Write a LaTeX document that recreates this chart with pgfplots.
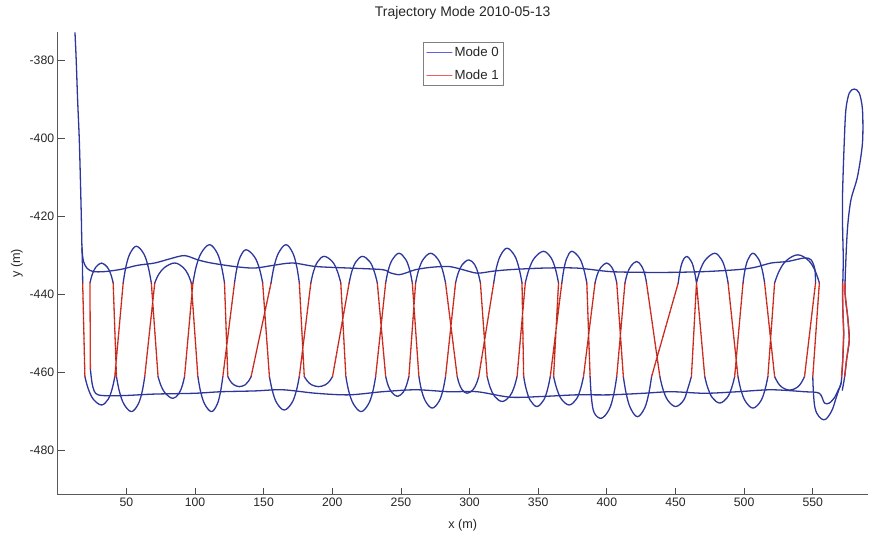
\documentclass[border=0pt]{standalone}
\usepackage{fontspec}
\setmainfont{Liberation Sans}
\usepackage{pgfplots}
\pgfplotsset{compat=1.18}
\definecolor{mblue}{RGB}{45,55,155}
\definecolor{mred}{RGB}{220,50,35}
\definecolor{mdark}{RGB}{80,45,50}
\definecolor{legblue}{RGB}{95,95,225}
\definecolor{legred}{RGB}{235,95,95}
\begin{document}
\begin{tikzpicture}
\path[use as bounding box] (0,0) rectangle (870bp,535bp);
\begin{axis}[
  at={(57.7bp,40.3bp)}, anchor=south west,
  width=810bp, height=463bp, scale only axis,
  xmin=0, xmax=590, ymin=-491.3, ymax=-372.6,
  axis lines*=left, axis line style={-, black!65, line width=0.8bp},
  tick align=inside, major tick length=7bp,
  tick style={black!70, line width=0.8bp},
  xtick={50,100,...,550}, ytick={-480,-460,-440,-420,-400,-380},
  /pgf/number format/assume math mode=true,
  ticklabel style={font=\fontsize{12.3}{14}\selectfont, text=black!85},
  xlabel={x (m)}, ylabel={y (m)},
  label style={font=\fontsize{12.7}{14}\selectfont, text=black!85},
  xlabel style={yshift=-6bp},
  title={Trajectory Mode 2010-05-13},
  title style={font=\fontsize{14}{16}\selectfont, text=black!85, yshift=3bp},
  legend style={at={(0.451,0.978)}, anchor=north west, draw=black!50, line width=0.6bp,
    font=\fontsize{13.3}{15}\selectfont, inner xsep=3bp, inner ysep=2.5bp, row sep=8bp,
    nodes={inner sep=2bp}, text=black!85},
  legend cell align=left,
  unbounded coords=jump,
  every axis plot/.append style={line width=1.3bp, line join=round, line cap=round},
]
% Mode 0: descent and upper transit line
\addplot[mblue, smooth, tension=0.5, forget plot] coordinates {
(12.6,-372.9) (13.5,-380) (14.5,-390) (15.7,-400) (16.5,-410) (17.2,-420) (17.7,-428)
(18.8,-431.5) (21.5,-433.3) (26,-434.1) (34.3,-434.1) (46.5,-433.5) (58,-432.5) (70.7,-431.9)
(82,-430.8) (92.4,-430.0) (102.1,-431.1) (111.8,-431.9) (128.8,-432.8) (143.3,-433.2)
(157,-432.5) (171.1,-431.9) (188.1,-432.8) (212.3,-433.2) (236.5,-433.6) (242,-434.4)
(248.6,-434.9) (254,-434.4) (260.7,-433.6) (272,-433) (284.9,-432.8) (295,-433.6)
(305.5,-434.5) (317,-434) (329.7,-433.6) (353.9,-433.2) (378.1,-433.2) (402.3,-434.1)
(426.5,-434.3) (447.1,-434.3) (471.3,-434.1) (495.5,-433.6) (508,-433) (519.7,-431.9)
(531.8,-431.5) (544,-430.6) (548.8,-431.1) (551.5,-433.5) (552,-437)
};
% Mode 0: start branch, lower transit line, right end loop
\addplot[mblue, smooth, tension=0.5, forget plot] coordinates {
(17.7,-428) (18.0,-432) (18.2,-437) (0,nan)
(23.8,-459) (25.5,-463.5) (29.5,-465.7) (46.5,-465.9) (70.7,-465.5) (99.7,-465.3)
(119.1,-464.9) (143.3,-464.7) (163.9,-464.4) (188.1,-465.3) (212.3,-465.7) (236.5,-464.9)
(260.7,-464.4) (284.9,-464.9) (305.5,-464.9) (329.7,-466.3) (353.9,-466.1) (378.1,-465.7)
(402.3,-465.7) (426.5,-465.3) (447.1,-464.9) (471.3,-465.3) (495.5,-464.9) (519.7,-464.4)
(544,-464.9) (554.8,-465.3) (558.5,-467.8) (562.1,-467.8) (566,-466.3) (568.5,-464.5)
(570.6,-462.7) (571.8,-457) (572.5,-450) (571.9,-444) (571.7,-439.6) (572.2,-431.1)
(571.7,-422.5) (571.7,-414) (572.9,-401.1) (574.1,-392.6) (576.6,-388.3) (580.2,-387.3)
(583.8,-388.3) (586.2,-392.6) (586.2,-401.1) (582.6,-409.7) (577.8,-415.7) (575.4,-422.5)
(574.1,-431.1) (573.5,-439.6) (575.5,-446) (576.6,-451.6) (574.6,-456.7) (573,-461.5)
(571.5,-464.5)
};
% Mode 0: turns above the upper line
\addplot[mblue, smooth, tension=0.6, forget plot] coordinates {
(23.5,-437)(25.2,-434.8)(27.7,-433.0)(31.9,-431.9)(36.2,-433.0)(38.7,-434.8)(40.4,-437) (0,nan)
(47.7,-437)(49.6,-433.0)(52.5,-429.6)(57.3,-427.6)(62.8,-429.6)(66.0,-433.0)(68.2,-437) (0,nan)
(70.7,-437)(73.6,-434.8)(78.0,-433.0)(85.2,-431.9)(91.3,-433.0)(94.9,-434.8)(97.3,-437) (0,nan)
(98.5,-437)(100.9,-432.8)(104.6,-429.3)(110.6,-427.2)(116.1,-429.3)(119.3,-432.8)(121.5,-437) (0,nan)
(128.8,-437)(130.5,-433.3)(133.0,-430.3)(137.2,-428.5)(143.3,-430.3)(146.9,-433.3)(149.3,-437) (0,nan)
(155.4,-437)(157.6,-432.8)(160.9,-429.3)(166.3,-427.2)(171.2,-429.3)(174.1,-432.8)(176.0,-437) (0,nan)
(184.4,-437)(186.3,-434.1)(189.3,-431.6)(194.1,-430.2)(200.2,-431.6)(203.8,-434.1)(206.2,-437) (0,nan)
(212.3,-437)(214.2,-434.1)(217.2,-431.6)(222.0,-430.2)(227.4,-431.6)(230.6,-434.1)(232.8,-437) (0,nan)
(238.9,-437)(240.8,-433.7)(243.8,-431.0)(248.6,-429.4)(253.5,-431.0)(256.4,-433.7)(258.3,-437) (0,nan)
(260.7,-437)(262.9,-433.7)(266.2,-431.0)(271.6,-429.4)(277.1,-431.0)(280.3,-433.7)(282.5,-437) (0,nan)
(289.8,-437)(291.7,-434.5)(294.7,-432.3)(299.5,-431.1)(303.7,-432.3)(306.2,-434.5)(307.9,-437) (0,nan)
(317.6,-437)(319.5,-433.2)(322.5,-430.0)(327.3,-428.1)(332.8,-430.0)(336.0,-433.2)(338.2,-437) (0,nan)
(340.6,-437)(343.3,-433.5)(347.3,-430.6)(353.9,-428.9)(359.4,-430.6)(362.6,-433.5)(364.8,-437) (0,nan)
(367.2,-437)(368.7,-433.5)(370.9,-430.6)(374.5,-428.9)(380.0,-430.6)(383.2,-433.5)(385.4,-437) (0,nan)
(391.4,-437)(393.1,-434.8)(395.7,-433.0)(399.9,-431.9)(403.6,-433.0)(405.7,-434.8)(407.2,-437) (0,nan)
(413.2,-437)(414.9,-434.6)(417.5,-432.7)(421.7,-431.5)(425.3,-432.7)(427.5,-434.6)(428.9,-437) (0,nan)
(452.0,-437)(453.2,-434.1)(455.0,-431.6)(458.0,-430.2)(461.7,-431.6)(463.8,-434.1)(465.3,-437) (0,nan)
(465.3,-437)(468.0,-433.7)(472.0,-431.0)(478.6,-429.4)(483.5,-431.0)(486.4,-433.7)(488.3,-437) (0,nan)
(499.2,-437)(500.6,-433.7)(502.8,-431.0)(506.4,-429.4)(510.7,-431.0)(513.2,-433.7)(514.9,-437) (0,nan)
(522.2,-437)(525.6,-433.9)(530.7,-431.3)(539.1,-429.8)(547.0,-431.3)(551.7,-433.9)(554.8,-437)
};
% Mode 0: turns below the lower line
\addplot[mblue, smooth, tension=0.6, forget plot] coordinates {
(19.8,-461)(22.2,-464.1)(25.9,-466.8)(31.9,-468.3)(36.8,-466.8)(39.7,-464.1)(41.6,-461) (0,nan)
(42.8,-461)(45.0,-464.9)(48.3,-468.1)(53.7,-470.0)(58.6,-468.1)(61.5,-464.9)(63.4,-461) (0,nan)
(73.1,-461)(75.3,-463.4)(78.6,-465.4)(84.0,-466.6)(88.2,-465.4)(90.7,-463.4)(92.4,-461) (0,nan)
(102.1,-461)(104.1,-464.9)(107.1,-468.1)(112.0,-470.0)(116.2,-468.1)(118.6,-464.9)(120.3,-461) (0,nan)
(123.9,-461)(125.6,-462.1)(128.2,-463.1)(132.4,-463.6)(136.7,-463.1)(139.2,-462.1)(140.9,-461) (0,nan)
(154.2,-461)(156.4,-464.7)(159.6,-467.8)(165.0,-469.6)(170.5,-467.8)(173.8,-464.7)(176.0,-461) (0,nan)
(179.6,-461)(181.7,-462.1)(184.8,-463.1)(190.0,-463.6)(195.1,-463.1)(198.2,-462.1)(200.2,-461) (0,nan)
(209.9,-461)(212.1,-464.9)(215.5,-468.1)(221.0,-470.0)(226.3,-468.1)(229.5,-464.9)(231.6,-461) (0,nan)
(238.9,-461)(240.6,-463.2)(243.2,-465.0)(247.5,-466.1)(251.7,-465.0)(254.1,-463.2)(255.8,-461) (0,nan)
(263.1,-461)(265.0,-464.5)(268.0,-467.4)(272.8,-469.1)(277.7,-467.4)(280.6,-464.5)(282.5,-461) (0,nan)
(291.0,-461)(292.4,-462.8)(294.6,-464.4)(298.2,-465.3)(302.5,-464.4)(305.0,-462.8)(306.7,-461) (0,nan)
(312.8,-461)(315.0,-463.8)(318.3,-466.1)(323.7,-467.4)(329.2,-466.1)(332.4,-463.8)(334.6,-461) (0,nan)
(339.4,-461)(341.3,-464.3)(344.2,-467.1)(349.0,-468.7)(353.9,-467.1)(356.8,-464.3)(358.8,-461) (0,nan)
(361.2,-461)(363.5,-464.1)(366.9,-466.8)(372.5,-468.3)(377.8,-466.8)(380.9,-464.1)(383.0,-461) (0,nan)
(387.8,-461)(388.8,-466.5)(390.8,-470.3)(396.0,-471.7)(401.6,-469.5)(405.0,-465.6)(407.2,-461) (0,nan)
(412.0,-461)(414.1,-465.4)(417.2,-469.1)(422.3,-471.3)(427.5,-469.1)(430.5,-465.4)(432.6,-461) (0,nan)
(438.6,-461)(440.9,-464.3)(444.4,-467.1)(450.1,-468.7)(455.9,-467.1)(458.8,-464.3)(461.6,-461) (0,nan)
(471.3,-461)(473.5,-463.9)(476.8,-466.4)(482.2,-467.8)(487.7,-466.4)(490.9,-463.9)(493.1,-461) (0,nan)
(495.5,-461)(497.7,-464.5)(501.0,-467.4)(506.4,-469.1)(511.9,-467.4)(515.1,-464.5)(517.3,-461) (0,nan)
(522.2,-461)(524.4,-462.5)(527.7,-463.8)(533.1,-464.5)(538.6,-463.8)(541.8,-462.5)(544.0,-461) (0,nan)
(550.0,-461)(551.7,-469.2)(557.9,-472.1)(563.5,-470.0)(567.0,-466.5)(570.6,-462.7)
};
% Mode 1: survey legs
\addplot[mred, forget plot] coordinates {
(18.2,-437)(19.8,-461) (0,nan)
(23.5,-437)(23.8,-459) (0,nan)
(40.4,-437)(42.8,-461) (0,nan)
(47.7,-437)(41.6,-461) (0,nan)
(68.2,-437)(73.1,-461) (0,nan)
(70.7,-437)(63.4,-461) (0,nan)
(97.3,-437)(102.1,-461) (0,nan)
(98.5,-437)(92.4,-461) (0,nan)
(121.5,-437)(123.9,-461) (0,nan)
(128.8,-437)(120.3,-461) (0,nan)
(149.3,-437)(154.2,-461) (0,nan)
(155.4,-437)(140.9,-461) (0,nan)
(176.0,-437)(179.6,-461) (0,nan)
(184.4,-437)(176.0,-461) (0,nan)
(206.2,-437)(209.9,-461) (0,nan)
(212.3,-437)(200.2,-461) (0,nan)
(232.8,-437)(238.9,-461) (0,nan)
(238.9,-437)(231.6,-461) (0,nan)
(258.3,-437)(263.1,-461) (0,nan)
(260.7,-437)(255.8,-461) (0,nan)
(282.5,-437)(291.0,-461) (0,nan)
(289.8,-437)(282.5,-461) (0,nan)
(307.9,-437)(312.8,-461) (0,nan)
(317.6,-437)(306.7,-461) (0,nan)
(338.2,-437)(339.4,-461) (0,nan)
(340.6,-437)(334.6,-461) (0,nan)
(364.8,-437)(361.2,-461) (0,nan)
(367.2,-437)(358.8,-461) (0,nan)
(385.4,-437)(387.8,-461) (0,nan)
(391.4,-437)(383.0,-461) (0,nan)
(407.2,-437)(412.0,-461) (0,nan)
(413.2,-437)(407.2,-461) (0,nan)
(428.9,-437)(438.6,-461) (0,nan)
(452.0,-437)(432.6,-461) (0,nan)
(465.3,-437)(471.3,-461) (0,nan)
(465.3,-437)(461.6,-461) (0,nan)
(488.3,-437)(495.5,-461) (0,nan)
(499.2,-437)(493.1,-461) (0,nan)
(514.9,-437)(522.2,-461) (0,nan)
(522.2,-437)(517.3,-461) (0,nan)
(554.8,-437)(550.0,-461) (0,nan)
(552.0,-437)(544.0,-461) (0,nan)
(571.7,-437)(571.9,-444)(572.5,-450)(571.8,-457)(570.9,-461) (0,nan)
(573.6,-437)(573.5,-439.6)(575.5,-446)(576.6,-451.6)(574.6,-456.7)(573.3,-461)
};
% dark speckle along the legs, as in the scanned original
\addplot[mdark, line width=0.7bp, line cap=butt, dash pattern=on 1bp off 4bp, forget plot] coordinates {
(18.2,-437)(19.8,-461) (0,nan)
(40.4,-437)(42.8,-461) (0,nan)
(47.7,-437)(41.6,-461) (0,nan)
(68.2,-437)(73.1,-461) (0,nan)
(70.7,-437)(63.4,-461) (0,nan)
(97.3,-437)(102.1,-461) (0,nan)
(98.5,-437)(92.4,-461) (0,nan)
(121.5,-437)(123.9,-461) (0,nan)
(128.8,-437)(120.3,-461) (0,nan)
(149.3,-437)(154.2,-461) (0,nan)
(155.4,-437)(140.9,-461) (0,nan)
(176.0,-437)(179.6,-461) (0,nan)
(184.4,-437)(176.0,-461) (0,nan)
(206.2,-437)(209.9,-461) (0,nan)
(212.3,-437)(200.2,-461) (0,nan)
(232.8,-437)(238.9,-461) (0,nan)
(238.9,-437)(231.6,-461) (0,nan)
(258.3,-437)(263.1,-461) (0,nan)
(260.7,-437)(255.8,-461) (0,nan)
(282.5,-437)(291.0,-461) (0,nan)
(289.8,-437)(282.5,-461) (0,nan)
(307.9,-437)(312.8,-461) (0,nan)
(317.6,-437)(306.7,-461) (0,nan)
(338.2,-437)(339.4,-461) (0,nan)
(340.6,-437)(334.6,-461) (0,nan)
(364.8,-437)(361.2,-461) (0,nan)
(367.2,-437)(358.8,-461) (0,nan)
(385.4,-437)(387.8,-461) (0,nan)
(391.4,-437)(383.0,-461) (0,nan)
(407.2,-437)(412.0,-461) (0,nan)
(413.2,-437)(407.2,-461) (0,nan)
(428.9,-437)(438.6,-461) (0,nan)
(452.0,-437)(432.6,-461) (0,nan)
(465.3,-437)(471.3,-461) (0,nan)
(465.3,-437)(461.6,-461) (0,nan)
(488.3,-437)(495.5,-461) (0,nan)
(499.2,-437)(493.1,-461) (0,nan)
(514.9,-437)(522.2,-461) (0,nan)
(522.2,-437)(517.3,-461) (0,nan)
(554.8,-437)(550.0,-461) (0,nan)
(552.0,-437)(544.0,-461)
};
\addlegendimage{legend image code/.code={\draw[draw=legblue, line width=1.2bp] (0bp,0bp) -- (25bp,0bp);}}
\addlegendentry{Mode 0}
\addlegendimage{legend image code/.code={\draw[draw=legred, line width=1.2bp] (0bp,0bp) -- (25bp,0bp);}}
\addlegendentry{Mode 1}
\end{axis}
\end{tikzpicture}
\end{document}
